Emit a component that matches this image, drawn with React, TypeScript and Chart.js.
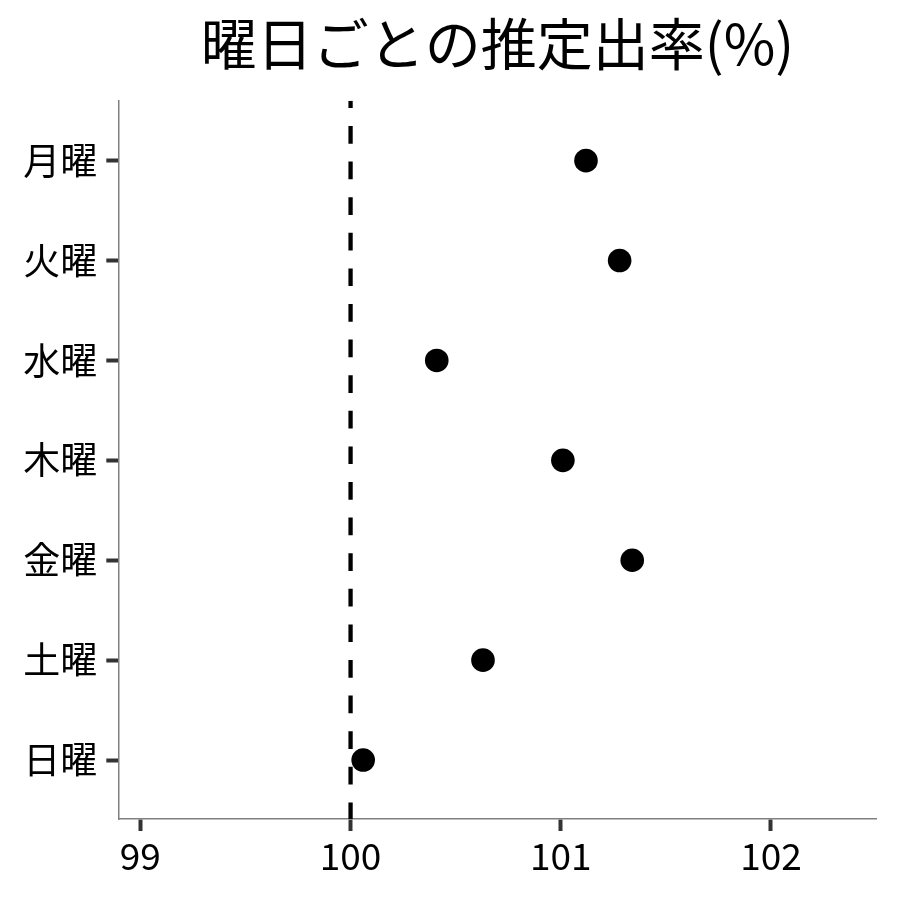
import React, { useEffect, useRef } from "react";
import { Chart, registerables } from "chart.js";

Chart.register(...registerables);

const dayLabels = ["月曜", "火曜", "水曜", "木曜", "金曜", "土曜", "日曜"];
const dayPositions = [1, 2, 3, 4, 5, 6, 7];
const estimatedRates = [101.12, 101.28, 100.41, 101.01, 101.34, 100.63, 100.06];
const xTickValues = [99, 100, 101, 102];
const referenceValue = 100;
const titleText = "曜日ごとの推定出率(%)";

const FONT = "'Noto Sans CJK JP', 'Noto Sans', sans-serif";

export default function App() {
  const canvasRef = useRef<HTMLCanvasElement | null>(null);

  useEffect(() => {
    document.body.style.margin = "0";
    const canvas = canvasRef.current;
    if (!canvas) return;

    const yMin = 0.4;
    const yMax = 7.59;

    const chart = new Chart(canvas, {
      type: "scatter",
      data: {
        datasets: [
          {
            type: "scatter",
            label: "推定出率",
            data: estimatedRates.map((v, i) => ({ x: v, y: dayPositions[i] })),
            backgroundColor: "#000000",
            borderColor: "#000000",
            borderWidth: 0,
            pointRadius: 11.8,
            pointHoverRadius: 11.8,
            order: 1,
          },
          {
            type: "line",
            label: "基準",
            data: [
              { x: referenceValue, y: yMin },
              { x: referenceValue, y: yMax },
            ],
            borderColor: "#000000",
            borderWidth: 4.3,
            borderDash: [17.7, 17.9],
            borderDashOffset: 10.3,
            pointRadius: 0,
            fill: false,
            order: 2,
          } as any,
        ],
      },
      options: {
        responsive: false,
        animation: false,
        layout: { padding: { left: 0, right: 23.3, top: 0, bottom: 0 } },
        plugins: {
          legend: { display: false },
          tooltip: { enabled: false },
          title: {
            display: true,
            text: titleText,
            color: "#000000",
            fullSize: false,
            font: { family: FONT, size: 56, weight: "normal" as any, lineHeight: 1.2 },
            padding: { top: 10.4, bottom: 23.1 },
          },
        },
        scales: {
          x: {
            type: "linear",
            min: 98.895,
            max: 102.503,
            afterBuildTicks: (scale: any) => {
              scale.ticks = xTickValues.map((v) => ({ value: v }));
            },
            afterFit: (scale: any) => {
              scale.height = 81;
            },
            ticks: {
              color: "#000000",
              font: { family: FONT, size: 37 },
              padding: 3,
              maxRotation: 0,
              autoSkip: false,
              callback: (v: any) => String(v),
            },
            grid: {
              display: true,
              drawOnChartArea: false,
              drawTicks: true,
              tickLength: 12,
              tickWidth: 4,
              tickColor: "#333333",
            },
            border: { display: true, color: "#808080", width: 1.5 },
          },
          y: {
            type: "linear",
            reverse: true,
            min: yMin,
            max: yMax,
            afterBuildTicks: (scale: any) => {
              scale.ticks = dayPositions.map((v) => ({ value: v }));
            },
            afterFit: (scale: any) => {
              scale.width = 118.3;
            },
            ticks: {
              color: "#000000",
              font: { family: FONT, size: 37 },
              padding: 9,
              autoSkip: false,
              callback: (v: any) => {
                const idx = dayPositions.indexOf(Number(v));
                return idx >= 0 ? dayLabels[idx] : "";
              },
            },
            grid: {
              display: true,
              drawOnChartArea: false,
              drawTicks: true,
              tickLength: 12,
              tickWidth: 4,
              tickColor: "#333333",
            },
            border: { display: true, color: "#808080", width: 1.5 },
          },
        },
      },
    });

    return () => {
      chart.destroy();
    };
  }, []);

  return (
    <div style={{ width: 900, height: 900 }}>
      <canvas ref={canvasRef} width={900} height={900} style={{ display: "block" }} />
    </div>
  );
}
